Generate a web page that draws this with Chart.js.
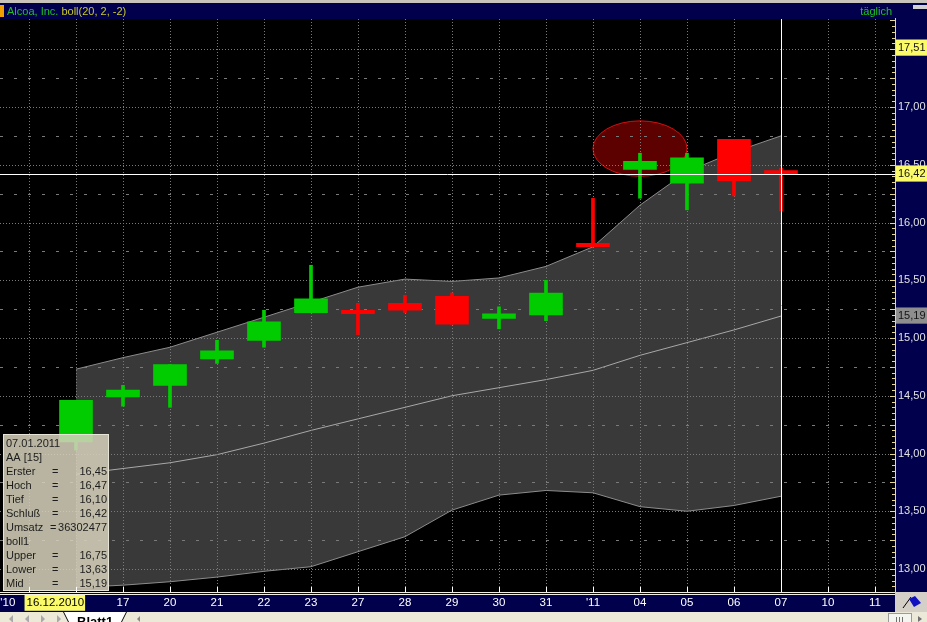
<!DOCTYPE html>
<html>
<head>
<meta charset="utf-8">
<title>Alcoa, Inc. boll(20, 2, -2)</title>
<script src="https://cdn.jsdelivr.net/npm/chart.js@4.4.1/dist/chart.umd.min.js"></script>
<style>
  html, body { margin: 0; padding: 0; background: #000; overflow: hidden; }
  #wrap { position: relative; width: 927px; height: 622px; }
</style>
</head>
<body>
<div id="wrap"><canvas id="chart"></canvas></div>
<script>
// =========================
// DATA
// =========================
const axisDays = ["15.12", "16.12", "17.12", "20.12", "21.12", "22.12", "23.12", "27.12", "28.12", "29.12",
  "30.12", "31.12", "03.01", "04.01", "05.01", "06.01", "07.01", "10.01", "11.01"];
const axisLabels = ["'10", "16.12.2010", "17", "20", "21", "22", "23", "27", "28", "29",
  "30", "31", "'11", "04", "05", "06", "07", "10", "11"];

const candleDays = ["16.12", "17.12", "20.12", "21.12", "22.12", "23.12", "27.12", "28.12",
  "29.12", "30.12", "31.12", "03.01", "04.01", "05.01", "06.01", "07.01"];
const openVals  = [14.10, 14.49, 14.59, 14.82, 14.98, 15.22, 15.24, 15.30, 15.36, 15.17, 15.20, 15.82, 16.46, 16.34, 16.72, 16.45];
const highVals  = [14.46, 14.59, 14.77, 14.98, 15.24, 15.63, 15.30, 15.37, 15.39, 15.27, 15.50, 16.21, 16.60, 16.60, 16.72, 16.47];
const lowVals   = [14.03, 14.41, 14.40, 14.78, 14.92, 15.22, 15.03, 15.22, 15.12, 15.08, 15.15, 15.79, 16.21, 16.11, 16.23, 16.10];
const closeVals = [14.46, 14.55, 14.77, 14.89, 15.14, 15.34, 15.21, 15.24, 15.12, 15.21, 15.39, 15.79, 16.53, 16.56, 16.36, 16.42];

const upperBand = [14.73, 14.83, 14.92, 15.05, 15.18, 15.31, 15.44, 15.51, 15.49, 15.52, 15.62, 15.79, 16.15, 16.44, 16.61, 16.75];
const midBand   = [13.82, 13.87, 13.92, 13.99, 14.09, 14.20, 14.30, 14.40, 14.50, 14.57, 14.64, 14.72, 14.85, 14.96, 15.07, 15.19];
const lowerBand = [12.84, 12.86, 12.89, 12.93, 12.98, 13.02, 13.15, 13.28, 13.51, 13.64, 13.68, 13.66, 13.54, 13.50, 13.55, 13.63];

const priceTicks = [13.00, 13.50, 14.00, 14.50, 15.00, 15.50, 16.00, 16.50, 17.00];
const topMark = 17.51;
const lastVolume = 36302477;
const infoDate = "07.01.2011";
const infoSymbol = "AA [15]";

// =========================
// STYLE
// =========================
const NAVY = "#00004c";
const GREEN = "#00cc00";
const RED = "#ff0000";
const FONT = '"Liberation Sans", Arial, sans-serif';
const X_MIN = -0.617, X_MAX = 18.426;
const Y_MIN = 12.801, Y_MAX = 17.762;
const labelNudge = { 0: -0.45, 1: -0.44 };

const dayIdx = candleDays.map(d => axisDays.indexOf(d));
const lastI = candleDays.length - 1;
const fmt = v => v.toFixed(2).replace(".", ",");

const markTicks = [topMark, closeVals[lastI], midBand[lastI]];
const markBg = ["#fbfb6a", "#fbfb6a", "#8e8e8e"];

// =========================
// DECOR PLUGIN
// =========================
const decor = {
  id: "decor",
  beforeDraw(chart) {
    const c = chart.ctx, a = chart.chartArea;
    const W = chart.width, H = chart.height;
    c.save();
    c.fillStyle = "#000";
    c.fillRect(0, 0, W, H);

    // title bar
    c.fillStyle = "#c8c4bc";
    c.fillRect(0, 0, W, 3);
    c.fillStyle = NAVY;
    c.fillRect(0, 3, W, a.top - 3);
    c.fillStyle = "#f0a000";
    c.fillRect(0, 5, 4, 12);
    c.fillStyle = "#d0d0d0";
    c.fillRect(913, 5, 14, 4);
    c.font = "11px " + FONT;
    c.textBaseline = "alphabetic";
    c.textAlign = "left";
    c.fillStyle = "#22c022";
    c.fillText("Alcoa, Inc. ", 7, 15);
    const w = c.measureText("Alcoa, Inc. ").width;
    c.fillStyle = "#c8c828";
    c.fillText("boll(20, 2, -2)", 7 + w, 15);
    c.fillStyle = "#22c022";
    c.textAlign = "right";
    c.fillText("täglich", 892, 15);

    // right price panel and bottom date band
    c.fillStyle = NAVY;
    c.fillRect(a.right, a.top, W - a.right, a.bottom - a.top);
    c.fillRect(0, a.bottom, a.right, 20);
    c.restore();
  },
  afterDatasetDraw(chart, args) {
    // grid goes over the band fill, under the candles
    if (args.meta.order !== 2) return;
    const c = chart.ctx, a = chart.chartArea;
    const xs = chart.scales.x, ys = chart.scales.y;
    c.save();
    c.lineWidth = 1;
    c.strokeStyle = "#7a7a7a";
    c.setLineDash([1, 2]);
    axisDays.forEach((d, i) => {
      const x = Math.round(xs.getPixelForValue(i)) + 0.5;
      c.beginPath(); c.moveTo(x, a.top); c.lineTo(x, a.bottom); c.stroke();
    });
    for (let p = 13; p <= 17.5; p += 0.25) {
      const y = Math.round(ys.getPixelForValue(p)) + 0.5;
      c.setLineDash(Math.abs(p * 2 - Math.round(p * 2)) < 1e-6 ? [1, 2] : [3, 11]);
      c.beginPath(); c.moveTo(0, y); c.lineTo(a.right - 2, y); c.stroke();
    }
    c.restore();
  },
  afterDatasetsDraw(chart) {
    const c = chart.ctx, a = chart.chartArea;
    const xs = chart.scales.x, ys = chart.scales.y;
    c.save();
    // crosshair on last bar
    c.strokeStyle = "#ffffff";
    c.lineWidth = 1;
    const cx = Math.round(xs.getPixelForValue(dayIdx[lastI])) + 0.5;
    const cy = Math.round(ys.getPixelForValue(closeVals[lastI])) + 0.5;
    c.beginPath(); c.moveTo(0, cy); c.lineTo(a.right, cy); c.stroke();
    c.beginPath(); c.moveTo(cx, a.top); c.lineTo(cx, a.bottom); c.stroke();

    // info box
    const bx = 3, by = 434, bw = 106, bh = 157;
    c.fillStyle = "rgba(214,210,188,0.86)";
    c.fillRect(bx, by, bw, bh);
    c.strokeStyle = "#e6e4d6";
    c.strokeRect(bx + 0.5, by + 0.5, bw - 1, bh - 1);
    const rows = [
      [infoDate], [infoSymbol],
      ["Erster", fmt(openVals[lastI])],
      ["Hoch", fmt(highVals[lastI])],
      ["Tief", fmt(lowVals[lastI])],
      ["Schluß", fmt(closeVals[lastI])],
      ["Umsatz", String(lastVolume)],
      ["boll1"],
      ["Upper", fmt(upperBand[lastI])],
      ["Lower", fmt(lowerBand[lastI])],
      ["Mid", fmt(midBand[lastI])]
    ];
    c.font = "11px " + FONT;
    c.fillStyle = "#1c1c1c";
    c.textBaseline = "middle";
    rows.forEach((r, k) => {
      const y = 444 + k * 14;
      c.textAlign = "left";
      c.fillText(r[0], 6, y);
      if (r.length > 1) {
        c.fillText("=", r[0] === "Umsatz" ? 50 : 52, y);
        c.textAlign = "right";
        c.fillText(r[1], 107, y);
      }
    });
    c.restore();
  },
  afterDraw(chart) {
    const c = chart.ctx, a = chart.chartArea;
    const xs = chart.scales.x, ys = chart.scales.y;
    const W = chart.width, H = chart.height;
    c.save();
    // price axis line and ticks
    c.strokeStyle = "#e6d890";
    c.lineWidth = 1;
    c.beginPath(); c.moveTo(a.right + 0.5, a.top - 1); c.lineTo(a.right + 0.5, a.bottom); c.stroke();
    for (let k = 0; k <= 100; k++) {
      const p = 12.8 + k * 0.05;
      if (p > Y_MAX) break;
      const y = Math.round(ys.getPixelForValue(p)) + 0.5;
      const len = (Math.abs(p * 4 - Math.round(p * 4)) < 1e-6) ? 5 : 3;
      c.beginPath(); c.moveTo(a.right - len, y); c.lineTo(a.right, y); c.stroke();
    }
    // date band border and ticks
    c.fillStyle = "#f2f0e4";
    c.fillRect(0, a.bottom, a.right, 1);
    c.fillRect(0, a.bottom + 2, a.right, 1);
    c.fillStyle = "#ffffff";
    axisDays.forEach((d, i) => {
      const x = Math.round(xs.getPixelForValue(i));
      c.fillRect(x, a.bottom - 5, 1, 5);
    });

    // corner with flag
    c.fillStyle = "#d4d0c8";
    c.fillRect(a.right, a.bottom, W - a.right, 20);
    c.strokeStyle = "#000";
    c.beginPath(); c.moveTo(903, 608); c.lineTo(911, 597); c.stroke();
    c.fillStyle = "#1010c0";
    c.beginPath(); c.moveTo(909, 599); c.lineTo(915, 596); c.lineTo(921, 603); c.lineTo(914, 607); c.closePath(); c.fill();

    // sheet tab bar
    const ty = a.bottom + 20;
    c.fillStyle = "#ece9d8";
    c.fillRect(0, ty, W, H - ty);
    c.fillStyle = "#a8a8a8";
    [6, 22, 38, 54].forEach((x, k) => {
      c.beginPath();
      if (k < 2) { c.moveTo(x + 7, ty + 3); c.lineTo(x + 3, ty + 7); c.lineTo(x + 7, ty + 11); }
      else { c.moveTo(x + 3, ty + 3); c.lineTo(x + 7, ty + 7); c.lineTo(x + 3, ty + 11); }
      c.closePath(); c.fill();
    });
    c.fillStyle = "#ffffff";
    c.beginPath(); c.moveTo(63, ty); c.lineTo(68, H); c.lineTo(122, H); c.lineTo(127, ty); c.closePath(); c.fill();
    c.strokeStyle = "#000";
    c.beginPath(); c.moveTo(63.5, ty); c.lineTo(68.5, H); c.moveTo(126.5, ty); c.lineTo(121.5, H); c.stroke();
    c.fillStyle = "#000";
    c.font = "bold 13px " + FONT;
    c.textAlign = "left";
    c.textBaseline = "alphabetic";
    c.fillText("Blatt1", 77, ty + 14);
    c.fillStyle = "#888";
    c.beginPath(); c.moveTo(140, ty + 4); c.lineTo(137, ty + 7); c.lineTo(140, ty + 10); c.closePath(); c.fill();
    c.strokeStyle = "#9a9a9a";
    c.fillStyle = "#f4f4f0";
    c.fillRect(888, ty + 1, 24, H - ty);
    c.strokeRect(888.5, ty + 1.5, 23, H - ty);
    c.fillStyle = "#707070";
    c.fillRect(896, ty + 5, 1, 5); c.fillRect(899, ty + 5, 1, 5); c.fillRect(902, ty + 5, 1, 5);
    c.beginPath(); c.moveTo(918, ty + 4); c.lineTo(922, ty + 7); c.lineTo(918, ty + 10); c.closePath(); c.fill();
    c.restore();
  },
  beforeDatasetsDraw(chart) {
    // highlight ellipse around the 04.01 bar
    const c = chart.ctx;
    const xs = chart.scales.x, ys = chart.scales.y;
    const i = candleDays.indexOf("04.01");
    const ex = xs.getPixelForValue(dayIdx[i]);
    const ey = ys.getPixelForValue(16.64);
    const rx = xs.getPixelForValue(dayIdx[i] + 1) - ex;
    const ry = ys.getPixelForValue(16.40) - ey;
    c.save();
    c.beginPath();
    c.ellipse(ex, ey, rx, ry, 0, 0, Math.PI * 2);
    c.fillStyle = "#5c0000";
    c.fill();
    c.strokeStyle = "#d01010";
    c.lineWidth = 1;
    c.stroke();
    c.restore();
  }
};

// =========================
// CHART
// =========================
const bodyColors = closeVals.map((c, i) => (c >= openVals[i] ? GREEN : RED));

const chart = new Chart(document.getElementById("chart"), {
  type: "bar",
  data: {
    datasets: [
      {
        type: "line",
        label: "Upper",
        data: upperBand.map((v, i) => ({ x: dayIdx[i], y: v })),
        borderColor: "#8c8c8c",
        borderWidth: 1,
        backgroundColor: "#393939",
        fill: "+1",
        pointRadius: 0,
        tension: 0,
        order: 4
      },
      {
        type: "line",
        label: "Lower",
        data: lowerBand.map((v, i) => ({ x: dayIdx[i], y: v })),
        borderColor: "#8c8c8c",
        borderWidth: 1,
        pointRadius: 0,
        tension: 0,
        fill: false,
        order: 3
      },
      {
        type: "line",
        label: "Mid",
        data: midBand.map((v, i) => ({ x: dayIdx[i], y: v })),
        borderColor: "#a8a8a8",
        borderWidth: 1,
        pointRadius: 0,
        tension: 0,
        fill: false,
        order: 2
      },
      {
        label: "Wick",
        data: lowVals.map((v, i) => ({ x: dayIdx[i], y: [v, highVals[i]] })),
        backgroundColor: bodyColors,
        borderWidth: 0,
        barThickness: 3,
        grouped: false,
        order: 1
      },
      {
        label: "Body",
        data: openVals.map((v, i) => ({ x: dayIdx[i], y: [v, closeVals[i]] })),
        backgroundColor: bodyColors,
        borderWidth: 0,
        barThickness: 33,
        grouped: false,
        order: 0
      }
    ]
  },
  options: {
    responsive: true,
    maintainAspectRatio: false,
    animation: false,
    layout: { padding: { top: 19, left: 0, right: 0, bottom: 0 } },
    plugins: {
      legend: { display: false },
      tooltip: { enabled: false },
      filler: { propagate: false }
    },
    scales: {
      x: {
        type: "linear",
        min: X_MIN,
        max: X_MAX,
        offset: false,
        grid: { display: false, drawTicks: false },
        border: { display: false },
        afterBuildTicks: s => {
          s.ticks = axisLabels.map((t, i) => ({ value: i + (labelNudge[i] || 0) }));
        },
        afterFit: s => { s.height = 30; s.paddingLeft = 0; s.paddingRight = 0; },
        ticks: {
          autoSkip: false,
          minRotation: 0,
          maxRotation: 0,
          padding: 4,
          font: { family: FONT, size: 11.5 },
          color: ctx => (ctx.index === 1 ? "#000" : "#ffffff"),
          showLabelBackdrop: true,
          backdropColor: ctx => (ctx.index === 1 ? "#fbfb6a" : "rgba(0,0,0,0)"),
          backdropPadding: { top: 2, bottom: 1, left: 2, right: 1 },
          callback: (v, i) => axisLabels[i]
        }
      },
      y: {
        type: "linear",
        position: "right",
        min: Y_MIN,
        max: Y_MAX,
        grid: { display: false, drawTicks: false },
        border: { display: false },
        afterBuildTicks: s => {
          s.ticks = priceTicks.concat(markTicks).map(v => ({ value: v }));
        },
        afterFit: s => { s.width = 32; s.paddingTop = 0; s.paddingBottom = 0; },
        ticks: {
          autoSkip: false,
          padding: 3,
          font: { family: FONT, size: 11 },
          color: ctx => (ctx.index >= priceTicks.length ? "#141414" : "#e2e2e2"),
          showLabelBackdrop: true,
          backdropColor: ctx => (ctx.index >= priceTicks.length ? markBg[ctx.index - priceTicks.length] : "rgba(0,0,0,0)"),
          backdropPadding: { top: 2, bottom: 1, left: 2, right: 4 },
          callback: v => fmt(v)
        }
      }
    }
  },
  plugins: [decor]
});
</script>
</body>
</html>
